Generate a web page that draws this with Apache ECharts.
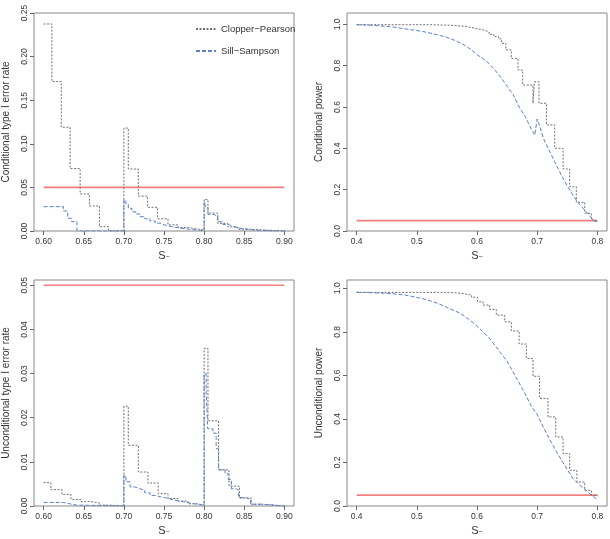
<!DOCTYPE html>
<html>
<head>
<meta charset="utf-8">
<script src="https://cdn.jsdelivr.net/npm/echarts@6/dist/echarts.min.js"></script>
<style>html,body{margin:0;padding:0;background:#fff}#c{width:610px;height:539px}</style>
</head>
<body>
<div id="c"></div>
<script>
// ---------- DATA ----------
var alpha = 0.05;
var legendNames = ['Clopper\u2212Pearson', 'Sill\u2212Sampson'];
var yTitles = ['Conditional type I error rate', 'Conditional power', 'Unconditional type I error rate', 'Unconditional power'];

var xTicksErr = [0.60, 0.65, 0.70, 0.75, 0.80, 0.85, 0.90];
var xTicksPow = [0.4, 0.5, 0.6, 0.7, 0.8];
var yTicksCondErr = [0, 0.05, 0.10, 0.15, 0.20, 0.25];
var yTicksUncErr = [0, 0.01, 0.02, 0.03, 0.04, 0.05];
var yTicksPow = [0, 0.2, 0.4, 0.6, 0.8, 1.0];

// Panel 1: conditional type I error
var cp1X = [0.600, 0.6103, 0.622, 0.633, 0.6455, 0.657, 0.6695, 0.681, 0.700, 0.7055, 0.718, 0.7296, 0.742, 0.755, 0.7676, 0.780, 0.793, 0.800, 0.8048, 0.817, 0.8297, 0.842, 0.8566, 0.900];
var cp1Y = [0.2374, 0.1715, 0.119, 0.0716, 0.0425, 0.0287, 0.005, 0, 0.118, 0.0711, 0.040, 0.0272, 0.0140, 0.0070, 0.004, 0.002, 0.001, 0.0362, 0.0205, 0.0088, 0.0046, 0.002, 0, 0];
var ss1X = [0.600, 0.6248, 0.630, 0.635, 0.6415, 0.700, 0.7025, 0.7055, 0.710, 0.715, 0.720, 0.726, 0.7325, 0.739, 0.745, 0.751, 0.757, 0.764, 0.770, 0.776, 0.782, 0.788, 0.7945, 0.800, 0.802, 0.8048, 0.812, 0.817, 0.8235, 0.830, 0.836, 0.842, 0.848, 0.855, 0.862, 0.870, 0.900];
var ss1Y = [0.0279, 0.0229, 0.0146, 0.0107, 0, 0.0355, 0.031, 0.026, 0.022, 0.0195, 0.0164, 0.014, 0.0115, 0.009, 0.0069, 0.0055, 0.0042, 0.0033, 0.0027, 0.0020, 0.0015, 0.001, 0.0005, 0.0336, 0.0272, 0.019, 0.017, 0.0107, 0.0075, 0.0055, 0.0035, 0.0028, 0.002, 0.0012, 0.0006, 0, 0];

// Panel 2: conditional power
var cp2X = [0.400, 0.520, 0.550, 0.565, 0.580, 0.590, 0.600, 0.612, 0.620, 0.628, 0.636, 0.641, 0.648, 0.657, 0.668, 0.676, 0.693, 0.6955, 0.703, 0.7153, 0.7291, 0.743, 0.754, 0.765, 0.779, 0.790, 0.797, 0.800];
var cp2Y = [0.998, 0.996, 0.994, 0.990, 0.985, 0.979, 0.972, 0.963, 0.951, 0.940, 0.930, 0.908, 0.876, 0.835, 0.779, 0.706, 0.618, 0.722, 0.618, 0.513, 0.400, 0.300, 0.214, 0.139, 0.0856, 0.053, 0.045, 0.045];
var ss2X = [0.40, 0.41, 0.42, 0.43, 0.44, 0.45, 0.46, 0.47, 0.48, 0.49, 0.50, 0.51, 0.52, 0.53, 0.54, 0.55, 0.56, 0.57, 0.58, 0.59, 0.60, 0.61, 0.62, 0.63, 0.64, 0.65, 0.66, 0.67, 0.68, 0.69, 0.696, 0.699, 0.700, 0.705, 0.71, 0.72, 0.73, 0.74, 0.75, 0.76, 0.77, 0.78, 0.79, 0.795, 0.80];
var ss2Y = [0.998, 0.997, 0.996, 0.994, 0.992, 0.990, 0.987, 0.983, 0.978, 0.974, 0.970, 0.965, 0.959, 0.952, 0.945, 0.937, 0.926, 0.913, 0.898, 0.878, 0.853, 0.834, 0.810, 0.778, 0.742, 0.700, 0.660, 0.600, 0.555, 0.495, 0.464, 0.455, 0.542, 0.500, 0.450, 0.390, 0.330, 0.272, 0.218, 0.170, 0.130, 0.097, 0.065, 0.048, 0.045];

// Panel 3: unconditional type I error
var cp3X = [0.600, 0.609, 0.6228, 0.634, 0.6464, 0.658, 0.6695, 0.681, 0.700, 0.7055, 0.718, 0.730, 0.7428, 0.755, 0.7676, 0.780, 0.792, 0.800, 0.8048, 0.818, 0.831, 0.844, 0.8587, 0.873, 0.900];
var cp3Y = [0.0053, 0.0037, 0.0026, 0.0015, 0.001, 0.0007, 0.0002, 0, 0.0226, 0.01375, 0.0077, 0.0052, 0.0028, 0.0017, 0.0011, 0.0005, 0.0002, 0.0357, 0.0193, 0.0082, 0.0045, 0.0018, 0.0004, 0, 0];
var ss3X = [0.600, 0.625, 0.630, 0.635, 0.6415, 0.700, 0.7025, 0.7077, 0.714, 0.720, 0.726, 0.7325, 0.739, 0.745, 0.751, 0.7574, 0.7635, 0.7695, 0.776, 0.782, 0.788, 0.7945, 0.800, 0.8025, 0.8045, 0.811, 0.815, 0.818, 0.826, 0.830, 0.834, 0.840, 0.843, 0.852, 0.858, 0.873, 0.900];
var ss3Y = [0.0008, 0.0006, 0.0004, 0.0002, 0, 0.0069, 0.0055, 0.0043, 0.0039, 0.0036, 0.0030, 0.0024, 0.0021, 0.0019, 0.0016, 0.0013, 0.0011, 0.0009, 0.0007, 0.0005, 0.0003, 0.0002, 0.030, 0.026, 0.0175, 0.0165, 0.013, 0.0082, 0.0074, 0.006, 0.0039, 0.0036, 0.0019, 0.0015, 0.0004, 0, 0];

// Panel 4: unconditional power
var cp4X = [0.400, 0.552, 0.574, 0.591, 0.601, 0.610, 0.621, 0.632, 0.646, 0.657, 0.670, 0.682, 0.693, 0.704, 0.718, 0.7308, 0.743, 0.754, 0.766, 0.779, 0.790, 0.800];
var cp4Y = [0.981, 0.977, 0.969, 0.959, 0.938, 0.923, 0.903, 0.877, 0.846, 0.804, 0.744, 0.678, 0.596, 0.494, 0.409, 0.317, 0.241, 0.164, 0.110, 0.072, 0.049, 0.045];
var ss4X = [0.40, 0.41, 0.42, 0.43, 0.44, 0.45, 0.46, 0.47, 0.48, 0.49, 0.50, 0.51, 0.52, 0.53, 0.54, 0.55, 0.56, 0.57, 0.58, 0.59, 0.60, 0.61, 0.62, 0.63, 0.64, 0.65, 0.66, 0.67, 0.68, 0.69, 0.70, 0.71, 0.72, 0.73, 0.74, 0.75, 0.76, 0.77, 0.78, 0.79, 0.80];
var ss4Y = [0.982, 0.981, 0.980, 0.979, 0.978, 0.977, 0.975, 0.972, 0.969, 0.964, 0.958, 0.952, 0.944, 0.935, 0.925, 0.912, 0.900, 0.888, 0.870, 0.850, 0.826, 0.800, 0.772, 0.738, 0.700, 0.665, 0.615, 0.565, 0.515, 0.460, 0.420, 0.363, 0.310, 0.260, 0.212, 0.167, 0.125, 0.097, 0.075, 0.050, 0.030];

// ---------- CHART ----------
var FONT = '"Liberation Sans", Arial, Helvetica, sans-serif';
var TXT = '#333';
var BOX = '#888';
var CP_COLOR = '#707070';
var SS_COLOR = '#5b80c6';
var RED = '#f2807f';

function pairs(xs, ys) { return xs.map(function (x, i) { return [x, ys[i]]; }); }

var grids = [
  { left: 33, top: 13, width: 261, height: 218 },
  { left: 347, top: 13, width: 260, height: 218 },
  { left: 33, top: 280, width: 261, height: 226 },
  { left: 347, top: 280, width: 260, height: 226 }
];
var xRanges = [[0.588, 0.912], [0.384, 0.816], [0.588, 0.912], [0.384, 0.816]];
var yRanges = [[0, 0.25], [0, 1.0547], [0, 0.0512], [0, 1.038]];
var xTicks = [xTicksErr, xTicksPow, xTicksErr, xTicksPow];
var yTicks = [yTicksCondErr, yTicksPow, yTicksUncErr, yTicksPow];
var xDec = [2, 1, 2, 1];
var yDec = [2, 1, 2, 1];
var ssStep = ['end', false, 'end', false];
var alphaX = [[0.6, 0.9], [0.4, 0.8], [0.6, 0.9], [0.4, 0.8]];
var cpData = [pairs(cp1X, cp1Y), pairs(cp2X, cp2Y), pairs(cp3X, cp3Y), pairs(cp4X, cp4Y)];
var ssData = [pairs(ss1X, ss1Y), pairs(ss2X, ss2Y), pairs(ss3X, ss3Y), pairs(ss4X, ss4Y)];

var gridOpts = [], xAxes = [], yAxes = [], series = [];
for (var i = 0; i < 4; i++) {
  gridOpts.push(Object.assign({ show: true, borderColor: BOX, borderWidth: 1, backgroundColor: 'transparent', containLabel: false }, grids[i]));
  (function (i) {
    xAxes.push({
      type: 'value', gridIndex: i, min: xRanges[i][0], max: xRanges[i][1],
      axisLine: { show: false },
      axisTick: { show: true, length: 4, lineStyle: { color: '#666' }, customValues: xTicks[i] },
      axisLabel: { show: true, customValues: xTicks[i], margin: 6, fontSize: 8.5, color: TXT, fontFamily: FONT,
        formatter: function (v) { return (+v).toFixed(xDec[i]); } },
      splitLine: { show: false },
      name: '{s|S}{d|\u2212}', nameLocation: 'middle', nameGap: 19,
      nameTextStyle: { rich: { s: { fontSize: 11, color: TXT, fontFamily: FONT }, d: { fontSize: 7, color: TXT, fontFamily: FONT, padding: [3, 0, 0, 0] } } }
    });
    yAxes.push({
      type: 'value', gridIndex: i, min: yRanges[i][0], max: yRanges[i][1],
      axisLine: { show: false },
      axisTick: { show: true, length: 4, lineStyle: { color: '#666' }, customValues: yTicks[i] },
      axisLabel: { show: true, customValues: yTicks[i], rotate: 90, margin: 5, fontSize: 8.5, color: TXT, fontFamily: FONT,
        formatter: function (v) { return (+v).toFixed(yDec[i]); } },
      splitLine: { show: false },
      name: yTitles[i], nameLocation: 'middle', nameGap: 23,
      nameTextStyle: { fontSize: 10, color: TXT, fontFamily: FONT }
    });
  })(i);
  series.push({
    type: 'line', name: 'alpha' + i, xAxisIndex: i, yAxisIndex: i,
    data: [[alphaX[i][0], alpha], [alphaX[i][1], alpha]], symbol: 'none', showSymbol: false,
    itemStyle: { color: RED },
    lineStyle: { color: RED, width: 1.6, type: 'solid' }, z: 2
  });
  series.push({
    type: 'line', name: legendNames[0], xAxisIndex: i, yAxisIndex: i, step: 'end',
    data: cpData[i], symbol: 'none', showSymbol: false, itemStyle: { color: CP_COLOR },
    lineStyle: { color: CP_COLOR, width: 1, type: [2, 1.5] }, z: 3
  });
  series.push({
    type: 'line', name: legendNames[1], xAxisIndex: i, yAxisIndex: i, step: ssStep[i],
    data: ssData[i], symbol: 'none', showSymbol: false, itemStyle: { color: SS_COLOR },
    lineStyle: { color: SS_COLOR, width: 1, type: [4, 2] }, z: 4
  });
}

var chart = echarts.init(document.getElementById('c'), null, { renderer: 'canvas' });
chart.setOption({
  animation: false,
  backgroundColor: '#fff',
  textStyle: { fontFamily: FONT },
  grid: gridOpts,
  xAxis: xAxes,
  yAxis: yAxes,
  legend: {
    data: legendNames, orient: 'vertical', left: 190, top: 19, itemGap: 12,
    itemWidth: 20, itemHeight: 10,
    itemStyle: { opacity: 0 },
    textStyle: { fontSize: 9.5, color: TXT, fontFamily: FONT }
  },
  series: series
});
</script>
</body>
</html>
